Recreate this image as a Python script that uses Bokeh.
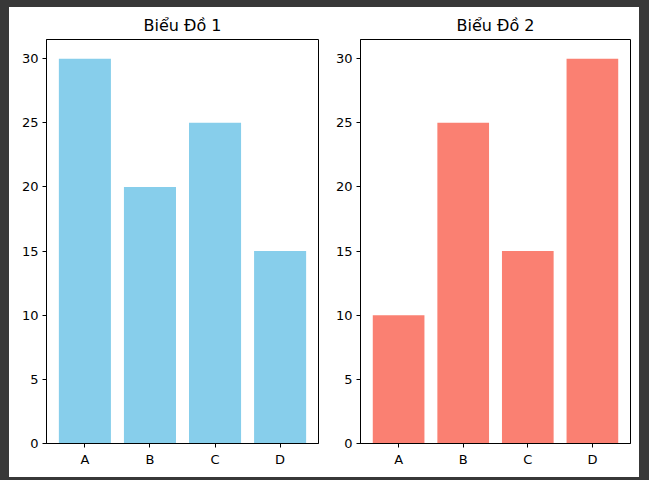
from bokeh.plotting import figure
from bokeh.layouts import row
from bokeh.models import FixedTicker, Range1d
from bokeh.embed import file_html
from bokeh.resources import INLINE

categories = ["A", "B", "C", "D"]
values1 = [30, 20, 25, 15]
values2 = [10, 25, 15, 30]
titles = ["Biểu Đồ 1", "Biểu Đồ 2"]
colors = ["#87CEEB", "#FA8072"]
y_ticks = [0, 5, 10, 15, 20, 25, 30]


def make(title, vals, color, bl, br, w):
    p = figure(width=w, height=470, output_backend="svg", toolbar_location=None,
               x_range=Range1d(-0.59, 3.59), y_range=Range1d(0, 31.5),
               min_border_left=bl, min_border_right=br, min_border_top=32,
               min_border_bottom=34, title=title)
    xs = list(range(len(categories)))
    p.vbar(x=xs, top=vals, width=0.8, color=color, line_color=None)
    p.title.align = "center"
    p.title.text_font = "DejaVu Sans"
    p.title.text_font_size = "16px"
    p.title.text_font_style = "normal"
    p.title.text_color = "black"
    p.xgrid.visible = False
    p.ygrid.visible = False
    p.outline_line_color = "black"
    p.outline_line_width = 1
    p.xaxis.ticker = FixedTicker(ticks=xs)
    p.xaxis.major_label_overrides = {i: c for i, c in enumerate(categories)}
    p.yaxis.ticker = FixedTicker(ticks=y_ticks)
    for ax in [p.xaxis[0], p.yaxis[0]]:
        ax.minor_tick_line_color = None
        ax.major_tick_in = 0
        ax.major_tick_out = 4
        ax.major_tick_line_color = "black"
        ax.axis_line_color = "black"
        ax.major_label_text_font = "DejaVu Sans"
        ax.major_label_text_font_size = "13px"
        ax.major_label_text_color = "black"
        ax.major_label_standoff = 4
    p.background_fill_color = "white"
    p.border_fill_color = "white"
    return p


p1 = make(titles[0], values1, colors[0], 37, 6, 315)
p2 = make(titles[1], values2, colors[1], 36, 9, 315)
layout = row(p1, p2, spacing=0, width=630, height=470,
             styles={"background-color": "white"})

html = file_html(layout, INLINE)
style = ("<style>html, body { background:#383838 !important; margin:0 !important; } "
         "body { padding:7px 0 0 9px !important; box-sizing:border-box; }</style>")
html = html.replace("</head>", style + "</head>", 1)
open("out.html", "w").write(html)
